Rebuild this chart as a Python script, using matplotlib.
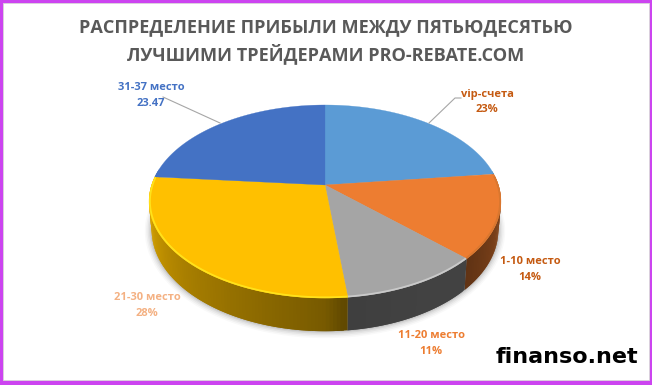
import numpy as np
import matplotlib
matplotlib.use("Agg")
import matplotlib.pyplot as plt
from matplotlib.patches import Rectangle

categories = ["vip-счета", "1-10 место", "11-20 место", "21-30 место", "31-37 место"]
values = [23, 14, 11, 28, 23.47]
value_labels = ["23%", "14%", "11%", "28%", "23.47"]
slice_colors = ["#5B9BD5", "#ED7D31", "#A5A5A5", "#FFC000", "#4472C4"]
label_colors = ["#C55A11", "#C55A11", "#ED7D31", "#F4B183", "#4472C4"]
rim_colors = ["#5B9BD5", "#D9772F", "#C9C9C9", "#FFE21A", "#4472C4"]
label_xy = [(487, 95, 110), (530, 261, 278), (431, 336, 352), (147, 298, 314), (151, 88, 104)]
title_lines = ["РАСПРЕДЕЛЕНИЕ ПРИБЫЛИ МЕЖДУ ПЯТЬЮДЕСЯТЬЮ", "ЛУЧШИМИ ТРЕЙДЕРАМИ PRO-REBATE.COM"]

W, H = 652, 385
CX, CY, A, B, K, DEPTH = 325.0, 185.0, 173.4, 93.7, 0.171, 27.5

fig = plt.figure(figsize=(W / 100, H / 100), dpi=100)
ax = fig.add_axes([0, 0, 1, 1])
ax.set_xlim(0, W)
ax.set_ylim(H, 0)
ax.axis("off")


def top(theta, r=1.0):
    u, v = r * np.sin(theta), r * np.cos(theta)
    w = 1 + K * v
    return CX + A * u / w, CY - B * v / w


def bottom(theta, grow=0.0):
    u, v = np.sin(theta), np.cos(theta)
    w = 1 + K * v
    x = CX + (A * u / w) * 0.985
    y = CY - B * v / w + DEPTH / w
    return x + np.sign(x - CX) * grow * np.abs(u), y + grow * np.maximum(-v, 0.25)


def shade(theta_deg):
    return np.interp(theta_deg, [80, 100, 135, 150, 175, 180, 225, 270, 285], [0.62, 0.58, 0.40, 0.40, 0.38, 0.47, 0.66, 0.9, 0.9])


# border
ax.add_patch(Rectangle((0, 0), W, H, fc="#CC44F0", ec="none", zorder=0))
ax.add_patch(Rectangle((3, 3), W - 6.5, H - 8, fc="white", ec="#D9D9D9", lw=0.6, zorder=0.1))

# soft shadow
full = np.linspace(0, 2 * np.pi, 361)
for g, a in zip([7, 5.5, 4, 2.5, 1.2], [0.025, 0.035, 0.045, 0.06, 0.08]):
    sx, sy = bottom(full, grow=g)
    ax.fill(sx, sy, color="black", alpha=a, lw=0, zorder=1)

edges = np.concatenate([[0], np.cumsum(values)]) / np.sum(values) * 2 * np.pi

# side wall: each strip overlaps the next one, so no seams show
for i in range(len(values)):
    t0, t1 = edges[i], edges[i + 1]
    n = max(int(np.degrees(t1 - t0)), 2)
    ts = np.linspace(t0, t1, n + 1)
    step = ts[1] - ts[0]
    base = np.array(matplotlib.colors.to_rgb(slice_colors[i]))
    for j, (a0, a1) in enumerate(zip(ts[:-1], ts[1:])):
        mid = (a0 + a1) / 2
        if np.cos(mid) > 0.15:
            continue
        c = base * shade(np.degrees(mid))
        end = a1 + step if j < n - 1 else a1
        seg = np.array([a0, (a0 + end) / 2, end])
        tx, ty = top(seg)
        bx, by = bottom(seg[::-1])
        ax.fill(np.r_[tx, bx], np.r_[ty, by], color=c, lw=0, zorder=2)

# top face
for i in range(len(values)):
    ts = np.linspace(edges[i], edges[i + 1], 200)
    x, y = top(ts)
    ax.fill(np.r_[CX, x], np.r_[CY, y], color=slice_colors[i], lw=0.2, zorder=3)
    x, y = top(ts, 0.995)
    front = np.cos(ts) < 0.1
    ax.plot(x[front], y[front], color=rim_colors[i], lw=1.3, zorder=4, solid_capstyle="butt")

# leader lines
ax.plot([163, 220], [97, 123], color="#A6A6A6", lw=0.8, zorder=5)
ax.plot([429, 455, 461], [123, 98, 98], color="#A6A6A6", lw=0.8, zorder=5)

# labels
font = ["Open Sans", "DejaVu Sans"]
for cat, val, col, (x, y1, y2) in zip(categories, value_labels, label_colors, label_xy):
    ax.text(x, y1, cat, color=col, fontsize=8.0, fontweight="bold", family=font, ha="center", va="center", zorder=6)
    ax.text(x, y2, val, color=col, fontsize=8.0, fontweight="bold", family=font, ha="center", va="center", zorder=6)

# title
for line, y in zip(title_lines, [27, 54]):
    ax.text(326, y, line, color="#595959", fontsize=13.1, fontweight="bold", family=font, ha="center", va="center", zorder=6)

# watermark
ax.text(567, 357, "finanso.net", color="black", fontsize=16.0, fontweight="bold", family="DejaVu Sans", ha="center", va="center", zorder=7)

fig.savefig("out.png", dpi=100)
